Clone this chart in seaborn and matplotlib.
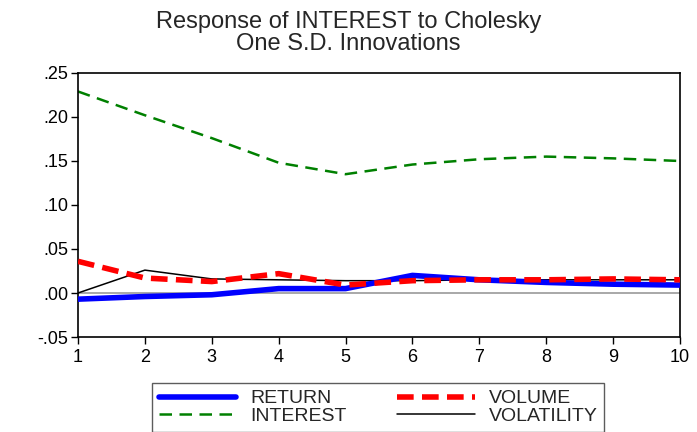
import matplotlib
matplotlib.use("Agg")
import matplotlib.pyplot as plt
import seaborn as sns
import pandas as pd
from matplotlib.ticker import FuncFormatter

periods = [1, 2, 3, 4, 5, 6, 7, 8, 9, 10]
ret = [-0.007, -0.004, -0.002, 0.005, 0.005, 0.020, 0.015, 0.012, 0.010, 0.009]
volume = [0.036, 0.017, 0.013, 0.022, 0.009, 0.014, 0.015, 0.015, 0.016, 0.015]
interest = [0.229, 0.202, 0.176, 0.148, 0.135, 0.146, 0.152, 0.155, 0.153, 0.150]
volatility = [0.000, 0.026, 0.016, 0.015, 0.014, 0.014, 0.015, 0.015, 0.015, 0.015]

sns.set_style("white")
plt.rcParams['font.family'] = ['Liberation Sans', 'DejaVu Sans']

df = pd.DataFrame({"period": periods, "RETURN": ret, "VOLUME": volume,
                   "INTEREST": interest, "VOLATILITY": volatility})

fig = plt.figure(figsize=(6.97, 4.32), dpi=100)
ax = fig.add_axes([78/697, 1 - 337/432, (680-78)/697, (337-73)/432])

ax.axhline(0, color="#999999", lw=1.2, zorder=1)
sns.lineplot(data=df, x="period", y="INTEREST", ax=ax, color="#008000", lw=1.8,
             linestyle=(0, (5, 3)), label="INTEREST", zorder=2)
sns.lineplot(data=df, x="period", y="VOLATILITY", ax=ax, color="black", lw=1.1,
             label="VOLATILITY", zorder=3)
sns.lineplot(data=df, x="period", y="RETURN", ax=ax, color="#0000ff", lw=4,
             label="RETURN", zorder=4)
sns.lineplot(data=df, x="period", y="VOLUME", ax=ax, color="#ff0000", lw=4,
             linestyle=(0, (3, 1.5)), label="VOLUME", zorder=5)

ax.set_xlim(1, 10)
ax.set_ylim(-0.05, 0.25)
ax.set_xticks(periods)
ax.set_yticks([-0.05, 0.0, 0.05, 0.10, 0.15, 0.20, 0.25])

def fmt(v, pos):
    s = f"{v:.2f}"
    return s.replace("0.", ".")
ax.yaxis.set_major_formatter(FuncFormatter(fmt))
ax.set_xlabel("")
ax.set_ylabel("")
for sp in ax.spines.values():
    sp.set_color("black")
    sp.set_linewidth(1.2)
ax.tick_params(axis="both", direction="out", length=5, width=1, colors="black",
               labelsize=13, left=True, bottom=True)
ax.tick_params(axis="y", pad=2)

fig.suptitle("Response of INTEREST to Cholesky\nOne S.D. Innovations",
             fontsize=17, y=0.975, linespacing=1.0)

handles, labels = ax.get_legend_handles_labels()
order = ["RETURN", "INTEREST", "VOLUME", "VOLATILITY"]
hmap = dict(zip(labels, handles))
ax.legend([hmap[o] for o in order], order, ncol=2, loc="upper center",
          bbox_to_anchor=(378/697, 1 - 383/432), bbox_transform=fig.transFigure,
          frameon=True, fancybox=False, edgecolor="#333333", fontsize=14,
          handlelength=4.0, columnspacing=2.6, labelspacing=0.0,
          borderpad=0.35, handletextpad=0.7, borderaxespad=0)
leg = ax.get_legend()
leg.get_frame().set_linewidth(1.0)

fig.savefig("out.png", dpi=100)
